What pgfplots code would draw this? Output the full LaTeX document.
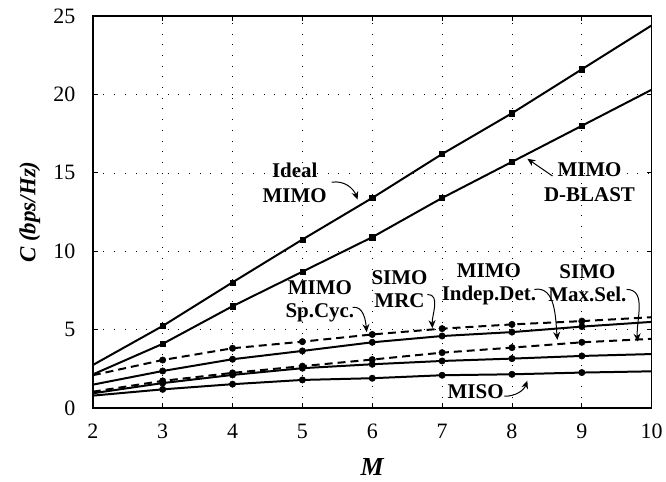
\documentclass[border=0pt]{standalone}
\usepackage{pgfplots}
\pgfplotsset{compat=1.18}
\usepackage{pgfplotstable}
\usepackage{fontspec}
\setmainfont{Liberation Serif}
\usetikzlibrary{arrows.meta}
\tikzset{labeltext/.style={font=\fontsize{21}{25}\selectfont\bfseries, inner sep=0pt, align=center},
  lblarrow/.style={line width=1pt, -{Stealth[length=8pt,width=7pt]}}}
\pgfplotstableread{
x Ideal DBLAST A B C D E
2 2.75 2.15 2.1 1.5 1.05 0.95 0.8
3 5.24 4.1 3.07 2.37 1.74 1.6 1.2
4 8.02 6.5 3.82 3.12 2.25 2.12 1.53
5 10.75 8.7 4.24 3.65 2.68 2.55 1.80
6 13.4 10.9 4.7 4.2 3.1 2.8 1.91
7 16.2 13.4 5.07 4.6 3.54 3.01 2.1
8 18.8 15.7 5.34 4.85 3.86 3.16 2.16
9 21.6 18.0 5.55 5.2 4.2 3.33 2.27
10 24.4 20.3 5.8 5.5 4.42 3.45 2.35
}\datatable
\begin{document}
\begin{tikzpicture}
\begin{axis}[
  name=ax,
  scale only axis,
  width=560pt, height=393pt,
  xmin=2, xmax=10, ymin=0, ymax=25,
  xtick={2,3,...,10}, ytick={0,5,...,25},
  tick align=inside,
  major tick length=5pt,
  axis line style={line width=1.5pt},
  tick style={line width=0.8pt, black},
  grid=major,
  grid style={black, line width=0.7pt, dash pattern=on 0.7pt off 10pt},
  /pgf/number format/assume math mode=true,
  ticklabel style={font=\fontsize{22}{26}\selectfont},
  yticklabel shift=14pt,
  xticklabel style={yshift=-12pt},
  xlabel={\fontsize{26}{30}\selectfont\bfseries\itshape M},
  ylabel={\fontsize{23}{27}\selectfont\bfseries\itshape C (bps/Hz)},
  xlabel style={at={(axis description cs:0.5,-0.150)}, anchor=center},
  ylabel style={at={(axis description cs:-0.1125,0.5)}, anchor=center},
  clip=false,
  every axis plot/.append style={black, line width=2pt, mark indices={2,3,4,5,6,7,8}},
]
\addplot[mark=square*, mark size=2.6pt, mark options={line width=0.5pt}] table[x=x,y=Ideal]{\datatable};
\addplot[mark=square*, mark size=2.6pt, mark options={line width=0.5pt}] table[x=x,y=DBLAST]{\datatable};
\addplot[dashed, dash pattern=on 8pt off 5pt, mark=*, mark size=3.2pt, mark options={solid, line width=0.5pt}] table[x=x,y=A]{\datatable};
\addplot[mark=*, mark size=3.2pt, mark options={line width=0.5pt}] table[x=x,y=B]{\datatable};
\addplot[dashed, dash pattern=on 8pt off 5pt, mark=*, mark size=3.2pt, mark options={solid, line width=0.5pt}] table[x=x,y=C]{\datatable};
\addplot[mark=*, mark size=3.2pt, mark options={line width=0.5pt}] table[x=x,y=D]{\datatable};
\addplot[mark=*, mark size=3.2pt, mark options={line width=0.5pt}] table[x=x,y=E]{\datatable};

\node[labeltext] at (axis cs:4.89,14.38) {Ideal\\MIMO};
\draw[lblarrow] (axis cs:5.42,14.4) to[out=10,in=110] (axis cs:5.79,13.3);

\node[labeltext] at (axis cs:9.11,14.38) {MIMO\\D-BLAST};
\draw[lblarrow] (axis cs:8.58,14.8) -- (axis cs:8.22,15.9);

\node[labeltext, font=\fontsize{21}{23}\selectfont\bfseries] at (axis cs:5.25,6.81) {MIMO\\Sp.Cyc.};
\draw[lblarrow] (axis cs:5.72,6.42) to[out=10,in=95] (axis cs:5.92,4.85);

\node[labeltext, font=\fontsize{21}{23}\selectfont\bfseries] at (axis cs:6.39,7.57) {SIMO\\MRC};
\draw[lblarrow] (axis cs:6.79,7.25) to[out=0,in=92] (axis cs:6.86,5.1);

\node[labeltext, font=\fontsize{21}{23}\selectfont\bfseries] at (axis cs:7.67,7.92) {MIMO\\Indep.Det.};
\draw[lblarrow] (axis cs:8.32,7.57) to[out=10,in=95] (axis cs:8.65,4.35);

\node[labeltext, font=\fontsize{21}{23}\selectfont\bfseries] at (axis cs:9.08,7.98) {SIMO\\Max.Sel.};
\draw[lblarrow] (axis cs:9.64,7.57) to[out=0,in=95] (axis cs:9.8,4.25);

\node[labeltext] at (axis cs:7.48,1.08) {MISO};
\draw[lblarrow] (axis cs:7.89,0.76) to[out=0,in=-110] (axis cs:8.22,1.75);
\end{axis}
\path (ax.south west) ++(-93pt,-73pt) rectangle ++(666pt,482pt);
\end{tikzpicture}
\end{document}
